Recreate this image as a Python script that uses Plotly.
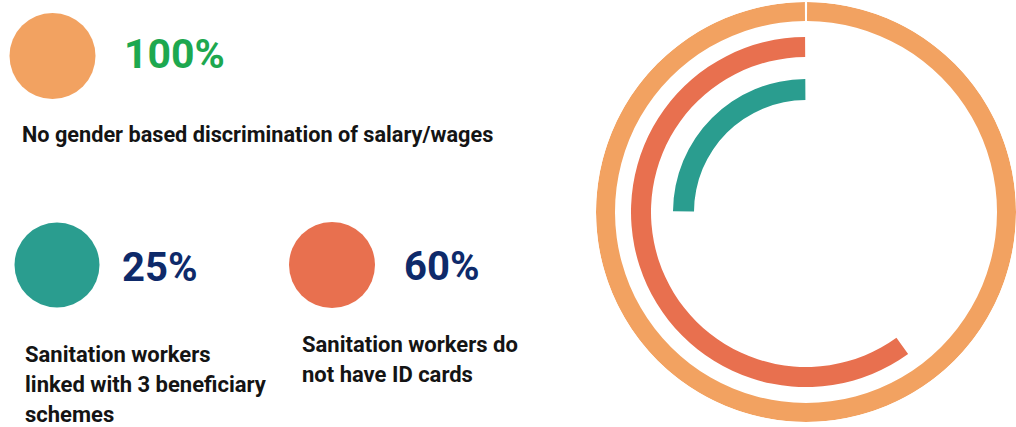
import plotly.graph_objects as go

# ---------------- data ----------------
categories = [
    "No gender based discrimination of salary/wages",
    "Sanitation workers\nlinked with 3 beneficiary\nschemes",
    "Sanitation workers do\nnot have ID cards",
]
values = [100, 25, 60]  # percent
colors = ["#F2A261", "#2A9D8F", "#E8704F"]
value_colors = ["#1DA84F", "#0E2A6A", "#0E2A6A"]

# ---------------- layout / style config ----------------
W, H = 1016, 427
FONT = "Roboto"

# legend key circles (pixel coords, y from top) and diameters
key_pos = [(52.5, 56), (57, 265), (332, 265)]
key_size = [86, 85, 86]
# value label positions
val_pos = [(122, 54), (120, 267), (402, 266)]
val_size = [41, 40, 40]
# description text positions: left x, first line centre y, line spacing
desc_pos = [(20, 134), (23, 354), (300, 344)]
desc_size = [21.7, 22, 22]
desc_step = 30

# radial ring geometry (pixels): ring order by value, outer to inner
ring_base = {100: 191, 60: 155, 25: 112}
ring_thick = {100: 19, 60: 20, 25: 21}
gap_deg = 0.6
# polar frame: centre and radius in pixels (y from top)
cx, cy, R = 806, 212, 210

fig = go.Figure()

# legend key circles
fig.add_trace(go.Scatter(
    x=[p[0] for p in key_pos], y=[p[1] for p in key_pos],
    mode="markers",
    marker=dict(size=key_size, color=colors, opacity=1, line=dict(width=0)),
    hoverinfo="skip", showlegend=False, cliponaxis=False,
))

annotations = []
for i, (cat, v) in enumerate(zip(categories, values)):
    annotations.append(dict(
        x=val_pos[i][0], y=val_pos[i][1], xref="x", yref="y",
        text=f"{v}%", showarrow=False, xanchor="left", yanchor="middle",
        font=dict(family=FONT, size=val_size[i], color=value_colors[i], weight=700),
    ))
    for j, line in enumerate(cat.split("\n")):
        annotations.append(dict(
            x=desc_pos[i][0], y=desc_pos[i][1] + j * desc_step, xref="x", yref="y",
            text=line, showarrow=False, xanchor="left", yanchor="middle",
            font=dict(family=FONT, size=desc_size[i], color="#141414", weight=700),
        ))

# radial bars
order = sorted(range(len(values)), key=lambda k: -values[k])
fig.add_trace(go.Barpolar(
    r=[ring_thick[values[k]] for k in order],
    base=[ring_base[values[k]] for k in order],
    theta=[0 for k in order],
    offset=[gap_deg / 2 for k in order],
    width=[values[k] * 3.6 - gap_deg for k in order],
    marker=dict(color=[colors[k] for k in order], line=dict(width=0)),
    hoverinfo="skip", showlegend=False,
))

fig.update_layout(
    width=W, height=H,
    margin=dict(l=0, r=0, t=0, b=0),
    paper_bgcolor="white", plot_bgcolor="white",
    showlegend=False,
    xaxis=dict(range=[0, W], domain=[0, 1], visible=False, fixedrange=True),
    yaxis=dict(range=[H, 0], domain=[0, 1], visible=False, fixedrange=True),
    polar=dict(
        domain=dict(x=[(cx - R) / W, min(1, (cx + R) / W)],
                    y=[1 - (cy + R) / H, 1 - (cy - R) / H]),
        bgcolor="rgba(0,0,0,0)",
        barmode="overlay",
        radialaxis=dict(range=[0, R], visible=False),
        angularaxis=dict(visible=False, rotation=90, direction="counterclockwise"),
        hole=0,
    ),
    annotations=annotations,
)

fig.write_html("out.html", config={"displayModeBar": False},
               post_script="document.body.style.margin='0px';")
